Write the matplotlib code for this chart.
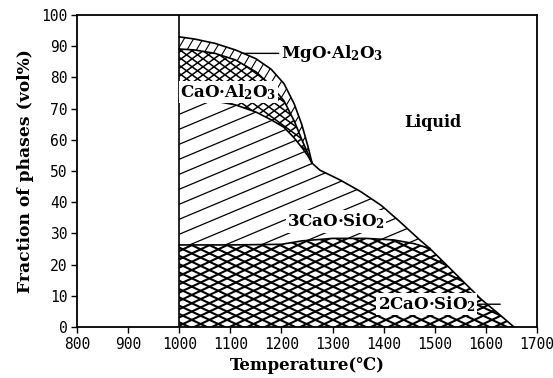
"""
Phase fractions vs temperature (hatched area chart)
"""

import numpy as np
import matplotlib.pyplot as plt
from matplotlib.collections import LineCollection

# Upper boundaries of the low-temperature phases (shared temperature grid)
T_up = [1000, 1030, 1070, 1110, 1150, 1180, 1205, 1225, 1240, 1252, 1260]
mgo_top = [93.0, 92.3, 90.9, 88.8, 86.0, 82.6, 78.0, 71.5, 64.8, 57.8, 52.5]
cao_top = [89.1, 88.8, 87.7, 85.6, 81.8, 77.3, 72.5, 66.0, 60.0, 55.5, 52.5]
c3s_top = [72.6, 72.8, 72.4, 71.2, 68.9, 66.4, 64.0, 60.6, 57.5, 54.8, 52.5]

# Liquid boundary
T_liq = [1260, 1275, 1315, 1355, 1395, 1430, 1470, 1490, 1510, 1550, 1590, 1628, 1655]
liq = [52.5, 50.3, 47.1, 43.4, 39.0, 34.0, 28.0, 25.2, 22.0, 15.5, 9.0, 3.8, 0]

# 2CaO.SiO2 upper boundary
T_c2s = [1000, 1100, 1200, 1240, 1300, 1365, 1420, 1460, 1490]
c2s_top = [26.3, 26.3, 26.5, 27.6, 28.4, 28.4, 27.9, 26.7, 25.2]

x_ticks = [800, 900, 1000, 1100, 1200, 1300, 1400, 1500, 1600, 1700]
y_ticks = [0, 10, 20, 30, 40, 50, 60, 70, 80, 90, 100]

SERIF = ['DejaVu Serif', 'DejaVu Sans']
MONO = 'DejaVu Sans Mono'

plt.rcParams['mathtext.fontset'] = 'custom'
plt.rcParams['mathtext.rm'] = 'DejaVu Serif:bold'
plt.rcParams['mathtext.bf'] = 'DejaVu Serif:bold'
plt.rcParams['mathtext.it'] = 'DejaVu Serif:bold'

fig = plt.figure(figsize=(5.53, 3.78), dpi=100)
ax = fig.add_axes([77 / 553, 51 / 378, 460 / 553, 312 / 378])
ax.set_xlim(800, 1700)
ax.set_ylim(0, 100)

W, H = 460.0, 312.0  # axes size in pixels


def hatch(poly, slope, spacing, lw):
    """Draw parallel lines (pixel slope, vertical pixel spacing) clipped to poly"""
    segs = []
    span = W * abs(slope) + H
    for c in np.arange(-span, span, spacing):
        segs.append([(0, c / H), (1, (c + slope * W) / H)])
    lc = LineCollection(segs, colors='black', linewidths=lw,
                        transform=ax.transAxes, zorder=2)
    ax.add_collection(lc)
    lc.set_clip_path(poly)


def region(xs, ys):
    return ax.fill(xs, ys, facecolor='white', edgecolor='none', zorder=1)[0]


# MgO.Al2O3
p_mgo = region(T_up + T_up[::-1], mgo_top + cao_top[::-1])
hatch(p_mgo, 1.7, 16, 0.8)

# CaO.Al2O3
p_cao = region(T_up + T_up[::-1], cao_top + c3s_top[::-1])
hatch(p_cao, 0.73, 8, 1.1)
hatch(p_cao, -0.73, 8, 1.1)

# 3CaO.SiO2
k = T_liq.index(T_c2s[-1])
p_c3s = region(T_up + T_liq[1:k + 1] + T_c2s[::-1],
               c3s_top + liq[1:k + 1] + c2s_top[::-1])
hatch(p_c3s, 0.42, 15, 0.9)

# 2CaO.SiO2
p_c2s = region(T_c2s + T_liq[k + 1:] + [T_c2s[0]],
               c2s_top + liq[k + 1:] + [0])
hatch(p_c2s, 0.47, 8.3, 1.5)
hatch(p_c2s, -0.47, 8.3, 1.5)

# Boundary lines
for xs, ys in [(T_up, mgo_top), (T_up, cao_top), (T_up, c3s_top),
               (T_liq, liq), (T_c2s, c2s_top)]:
    ax.plot(xs, ys, color='black', lw=1.2, zorder=3)
ax.axvline(1000, color='black', lw=1.2, zorder=3)

# Labels
box = dict(facecolor='white', edgecolor='none', pad=1)
lab = dict(fontsize=12, fontweight='bold', family=SERIF, zorder=5)
ax.annotate('MgO·Al$_2$O$_3$', xy=(1125, 87.7), xytext=(1200, 87.7),
            va='center', ha='left',
            arrowprops=dict(arrowstyle='-', color='black', lw=1,
                            shrinkA=0, shrinkB=0), **lab)
ax.text(1002, 75.4, 'CaO·Al$_2$O$_3$', va='center', ha='left', bbox=box, **lab)
ax.text(1497, 65.7, 'Liquid', va='center', ha='center',
        fontsize=11.5, fontweight='bold', family=SERIF, zorder=5)
ax.text(1307, 33.8, '3CaO·SiO$_2$', va='center', ha='center', bbox=box, **lab)
ax.annotate('2CaO·SiO$_2$', xy=(1628, 7.3), xytext=(1484, 7.3),
            va='center', ha='center', bbox=box,
            arrowprops=dict(arrowstyle='-', color='black', lw=1,
                            shrinkA=0, shrinkB=0), **lab)

# Axes styling
ax.set_xticks(x_ticks)
ax.set_yticks(y_ticks)
ax.set_xticklabels([str(t) for t in x_ticks], family=MONO, fontsize=10.5)
ax.set_yticklabels([str(t) for t in y_ticks], family=MONO, fontsize=10.5)
ax.tick_params(direction='out', length=4, width=1, pad=3)
for s in ax.spines.values():
    s.set_linewidth(1.3)
    s.set_zorder(4)

ax.set_xlabel('Temperature(℃)', fontsize=12, fontweight='bold',
              family=SERIF, labelpad=4)
ax.set_ylabel('Fraction of phases (vol%)', fontsize=12.3, fontweight='bold',
              family=SERIF, labelpad=5)

fig.savefig('out.png', dpi=100, facecolor='white')
plt.close(fig)
